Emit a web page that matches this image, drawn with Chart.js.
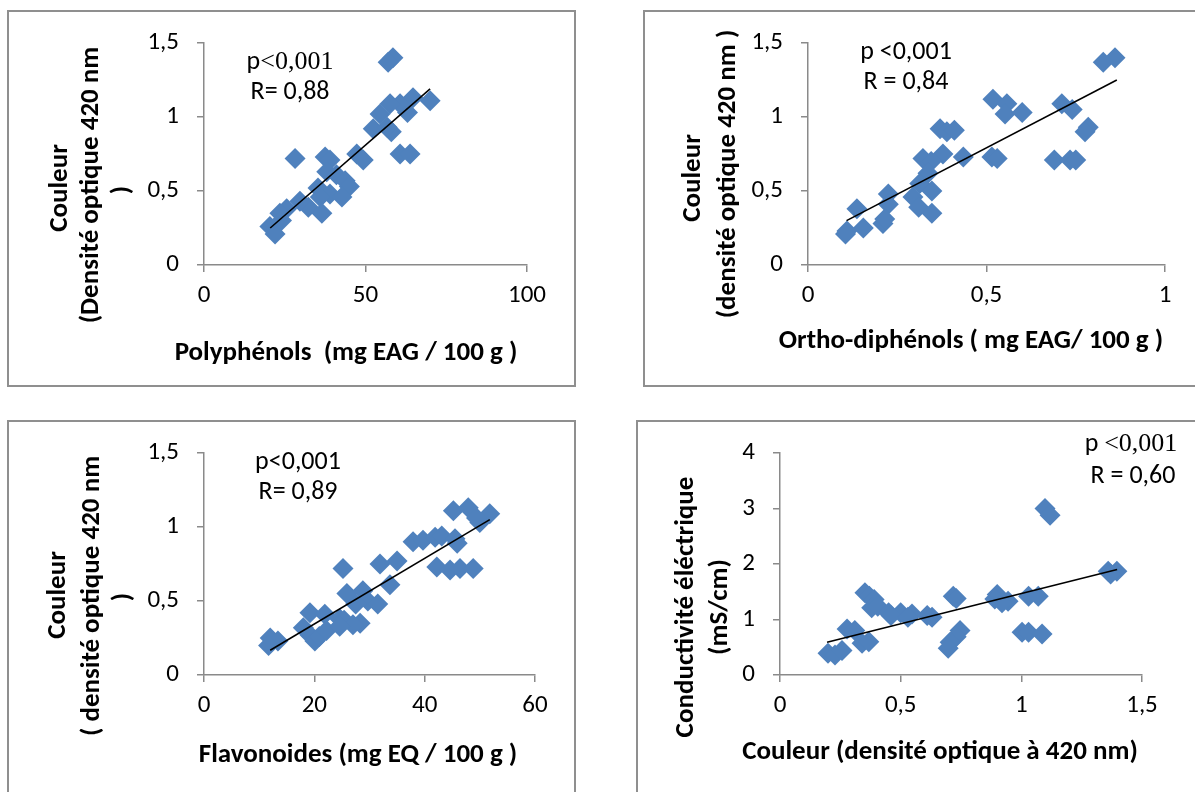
<!DOCTYPE html>
<html><head><meta charset="utf-8">
<script src="https://cdn.jsdelivr.net/npm/chart.js@4"></script>
<style>
html,body{margin:0;padding:0;background:#fff;width:1195px;height:792px;overflow:hidden;position:relative;}
.box{position:absolute;border:2px solid #8f8f8f;box-sizing:border-box;}
canvas{position:absolute;}
</style></head><body>
<div class="box" id="b1"></div><div class="box" id="b2"></div>
<div class="box" id="b3"></div><div class="box" id="b4"></div>
<canvas id="c1"></canvas><canvas id="c2"></canvas>
<canvas id="c3"></canvas><canvas id="c4"></canvas>
<script>
// ---------- data ----------
const polyX = [58.5, 57, 70, 64.7, 63, 60.7, 57.6, 54.5, 52.4, 58, 56.7, 60.7, 63.8, 28.2, 37.5, 39, 47.3, 49.3, 38, 41, 43.7, 45, 35.3, 39, 42.7, 36, 32.3, 36.5, 29.7, 25.6, 23.5, 20.4, 22, 24];
const polyY = [1.40, 1.37, 1.11, 1.13, 1.03, 1.09, 1.09, 1.02, 0.92, 0.90, 0.93, 0.75, 0.75, 0.72, 0.73, 0.71, 0.75, 0.71, 0.63, 0.61, 0.57, 0.53, 0.52, 0.48, 0.46, 0.46, 0.39, 0.35, 0.43, 0.38, 0.35, 0.26, 0.21, 0.30];
const polyTrendX = [20.5, 70];
const polyTrendY = [0.25, 1.19];

const orthoX = [0.86, 0.827, 0.518, 0.557, 0.552, 0.60, 0.711, 0.74, 0.785, 0.776, 0.37, 0.389, 0.41, 0.378, 0.435, 0.515, 0.53, 0.69, 0.734, 0.75, 0.322, 0.345, 0.336, 0.313, 0.294, 0.347, 0.31, 0.347, 0.225, 0.225, 0.21, 0.215, 0.137, 0.155, 0.109, 0.105];
const orthoY = [1.40, 1.37, 1.12, 1.09, 1.02, 1.03, 1.09, 1.05, 0.93, 0.90, 0.92, 0.90, 0.91, 0.75, 0.73, 0.73, 0.72, 0.71, 0.71, 0.71, 0.72, 0.70, 0.62, 0.55, 0.46, 0.50, 0.39, 0.35, 0.48, 0.41, 0.28, 0.31, 0.38, 0.25, 0.23, 0.21];
const orthoTrendX = [0.108, 0.865];
const orthoTrendY = [0.30, 1.25];

const flavX = [45.2, 47.9, 51.8, 50, 49.4, 37.9, 39.7, 41.9, 43.1, 45.5, 45.9, 42.2, 44.6, 46.4, 48.8, 25.2, 31.9, 35, 33.7, 25.9, 28.8, 29.7, 31.5, 27.5, 19.2, 21.9, 24.6, 25.4, 28.3, 27, 18, 19.2, 20.1, 20.9, 22.2, 12, 13.4, 11.7, 24.6];
const flavY = [1.11, 1.13, 1.09, 1.03, 1.06, 0.90, 0.91, 0.93, 0.94, 0.92, 0.89, 0.73, 0.71, 0.72, 0.72, 0.72, 0.75, 0.77, 0.61, 0.55, 0.57, 0.50, 0.48, 0.48, 0.42, 0.41, 0.38, 0.37, 0.35, 0.34, 0.32, 0.27, 0.23, 0.26, 0.30, 0.25, 0.23, 0.20, 0.33];
const flavTrendX = [12, 51.8];
const flavTrendY = [0.167, 1.05];

const colX = [1.098, 1.119, 1.36, 1.396, 1.37, 1.03, 1.07, 0.90, 0.89, 0.945, 0.92, 0.718, 0.73, 1.003, 1.03, 1.086, 0.746, 0.73, 0.705, 0.697, 0.352, 0.37, 0.39, 0.38, 0.405, 0.45, 0.50, 0.547, 0.61, 0.63, 0.46, 0.53, 0.278, 0.31, 0.34, 0.368, 0.199, 0.228, 0.257];
const condY = [3.0, 2.88, 1.87, 1.87, 1.82, 1.42, 1.42, 1.45, 1.37, 1.33, 1.30, 1.42, 1.38, 0.77, 0.77, 0.74, 0.80, 0.69, 0.59, 0.48, 1.48, 1.42, 1.36, 1.21, 1.24, 1.12, 1.12, 1.10, 1.07, 1.04, 1.07, 1.04, 0.83, 0.80, 0.57, 0.60, 0.39, 0.36, 0.44];
const condTrendX = [0.195, 1.397];
const condTrendY = [0.59, 1.90];

// ---------- style ----------
const SANS = 'Carlito, Lato, "Liberation Sans", sans-serif';
const SERIF = '"Liberation Serif", "Times New Roman", serif';
const AXIS = '#8a8a8a';
const BLUE = '#4F81BD';
const TICK = 25, TITLE = 27, NOTE = 26;

function textPlugin(items, ox, oy) {
  return {
    id: 'pageText',
    afterDraw(chart) {
      const ctx = chart.ctx;
      items.forEach(t => {
        ctx.save();
        ctx.translate(t.x - ox, t.y - oy);
        if (t.rot) ctx.rotate(t.rot);
        ctx.textBaseline = 'middle';
        ctx.textAlign = 'left';
        ctx.fillStyle = '#000';
        const ws = t.segs.map(s => { ctx.font = s[1]; return ctx.measureText(s[0]).width; });
        let cx = -ws.reduce((a, b) => a + b, 0) / 2;
        t.segs.forEach((s, i) => { ctx.font = s[1]; ctx.fillText(s[0], cx, 0); cx += ws[i]; });
        ctx.restore();
      });
    }
  };
}
const sans = 'normal ' + NOTE + 'px ' + SANS;
const serif = 'normal ' + NOTE + 'px ' + SERIF;
const bold = 'bold ' + TITLE + 'px ' + SANS;
const R90 = -Math.PI / 2;

function axis(min, max, step, fitKey, fitVal, pad) {
  return {
    type: 'linear', min: min, max: max,
    border: { display: true, color: AXIS, width: 1.5 },
    grid: { display: true, drawOnChartArea: false, drawTicks: true, tickLength: 7, color: AXIS, lineWidth: 1.5 },
    ticks: { stepSize: step, color: '#000', padding: pad, font: { family: SANS, size: TICK },
             callback: v => String(v).replace('.', ',') },
    afterFit: s => { s[fitKey] = fitVal; }
  };
}

function makeChart(id, boxId, box, plot, xs, ys, tx, ty, xr, yr, items) {
  const b = document.getElementById(boxId);
  Object.assign(b.style, { left: box[0] + 'px', top: box[1] + 'px', width: box[2] + 'px', height: box[3] + 'px' });
  const c = document.getElementById(id);
  c.width = box[2]; c.height = box[3];
  Object.assign(c.style, { left: box[0] + 'px', top: box[1] + 'px', width: box[2] + 'px', height: box[3] + 'px' });
  const yW = 80, xH = 60;
  const pad = {
    left: plot[0] - box[0] - yW,
    top: plot[2] - box[1],
    right: box[0] + box[2] - plot[1],
    bottom: box[1] + box[3] - plot[3] - xH
  };
  new Chart(c, {
    type: 'scatter',
    data: {
      datasets: [
        { data: tx.map((x, i) => ({ x: x, y: ty[i] })), showLine: true, borderColor: '#000', borderWidth: 1.6,
          pointRadius: 0, order: 0 },
        { data: xs.map((x, i) => ({ x: x, y: ys[i] })), pointStyle: 'rectRot', pointRadius: 10.5,
          backgroundColor: BLUE, borderColor: BLUE, borderWidth: 0, order: 1 }
      ]
    },
    options: {
      responsive: false, animation: false, events: [],
      layout: { padding: pad },
      plugins: { legend: { display: false }, tooltip: { enabled: false } },
      scales: {
        x: axis(xr[0], xr[1], xr[2], 'height', xH, 9),
        y: axis(yr[0], yr[1], yr[2], 'width', yW, 18)
      }
    },
    plugins: [textPlugin(items, box[0], box[1])]
  });
}

makeChart('c1', 'b1', [7, 10, 569, 377], [204, 527, 40, 265], polyX, polyY, polyTrendX, polyTrendY,
  [0, 100, 50], [0, 1.5, 0.5], [
    { x: 290, y: 62, segs: [['p', sans], ['<0,001', serif]] },
    { x: 290, y: 92, segs: [['R= 0,88', sans]] },
    { x: 346, y: 353, segs: [['Polyphénols  (mg EAG / 100 g )', bold]] },
    { x: 60, y: 188, rot: R90, segs: [['Couleur', bold]] },
    { x: 91, y: 185, rot: R90, segs: [['(Densité optique 420 nm', bold]] },
    { x: 122, y: 190, rot: R90, segs: [[')', bold]] }
  ]);

makeChart('c2', 'b2', [643, 10, 560, 377], [808, 1165, 40, 265], orthoX, orthoY, orthoTrendX, orthoTrendY,
  [0, 1, 0.5], [0, 1.5, 0.5], [
    { x: 906, y: 52, segs: [['p <0,001', sans]] },
    { x: 906, y: 82, segs: [['R = 0,84', sans]] },
    { x: 971, y: 341, segs: [['Ortho-diphénols ( mg EAG/ 100 g )', bold]] },
    { x: 693, y: 178, rot: R90, segs: [['Couleur', bold]] },
    { x: 728, y: 174, rot: R90, segs: [['(densité optique 420 nm )', bold]] }
  ]);

makeChart('c3', 'b3', [7, 420, 569, 380], [204, 535, 450, 675], flavX, flavY, flavTrendX, flavTrendY,
  [0, 60, 20], [0, 1.5, 0.5], [
    { x: 298, y: 462, segs: [['p<0,001', sans]] },
    { x: 298, y: 492, segs: [['R= 0,89', sans]] },
    { x: 358, y: 755, segs: [['Flavonoides (mg EQ / 100 g )', bold]] },
    { x: 58, y: 595, rot: R90, segs: [['Couleur', bold]] },
    { x: 92, y: 596, rot: R90, segs: [['( densité optique 420 nm', bold]] },
    { x: 123, y: 597, rot: R90, segs: [[')', bold]] }
  ]);

makeChart('c4', 'b4', [636, 420, 567, 380], [780, 1142, 450, 675], colX, condY, condTrendX, condTrendY,
  [0, 1.5, 0.5], [0, 4, 1], [
    { x: 1131, y: 444, segs: [['p ', sans], ['<0,001', serif]] },
    { x: 1133, y: 476, segs: [['R = 0,60', sans]] },
    { x: 940, y: 752, segs: [['Couleur (densité optique à 420 nm)', bold]] },
    { x: 686, y: 607, rot: R90, segs: [['Conductivité éléctrique', bold]] },
    { x: 720, y: 607, rot: R90, segs: [['(mS/cm)', bold]] }
  ]);
</script>
</body></html>
